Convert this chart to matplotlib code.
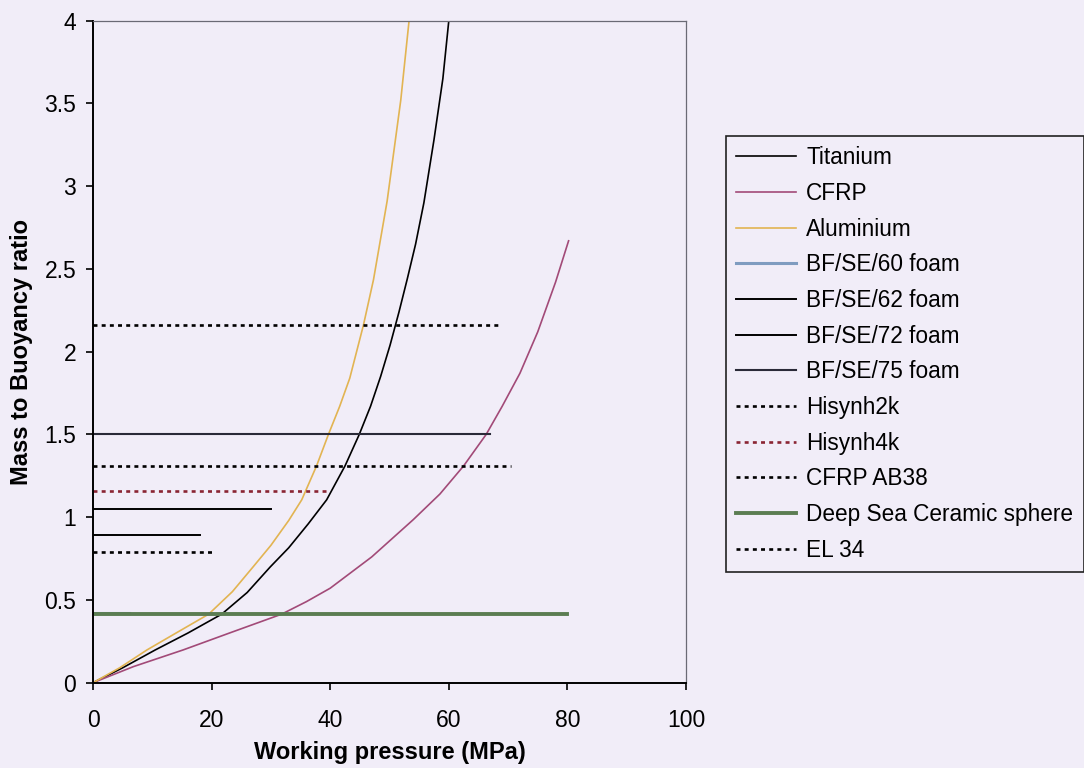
import matplotlib.pyplot as plt

plt.rcParams['font.family'] = ['Liberation Sans', 'DejaVu Sans']

# curves: working pressure (MPa) vs mass to buoyancy ratio
ti_x = [0, 5, 10.5, 16, 21.7, 26, 29.9, 33, 36.3, 39.4, 42.5, 44.9, 46.8, 48.5, 50.1, 51.6, 53.0, 54.4, 55.8, 57.5, 59, 60]
ti_y = [0, 0.09, 0.198, 0.30, 0.414, 0.545, 0.70, 0.815, 0.96, 1.105, 1.31, 1.5, 1.67, 1.85, 2.04, 2.24, 2.44, 2.65, 2.9, 3.28, 3.65, 4.0]

cfrp_x = [0, 6.8, 15.2, 23, 31.8, 36, 40, 47, 54, 58.5, 62.5, 66.3, 69, 72, 75, 78, 80.2]
cfrp_y = [0, 0.097, 0.198, 0.30, 0.414, 0.49, 0.571, 0.76, 0.985, 1.14, 1.31, 1.5, 1.67, 1.87, 2.12, 2.42, 2.67]

al_x = [0, 4.5, 9.1, 14, 19.5, 23.5, 27, 30, 33, 35.2, 37.7, 39.7, 41.6, 43.3, 45.6, 47.3, 49.6, 51.9, 53.3]
al_y = [0, 0.09, 0.198, 0.30, 0.414, 0.55, 0.70, 0.83, 0.98, 1.105, 1.31, 1.5, 1.67, 1.84, 2.16, 2.435, 2.91, 3.52, 4.0]

# flat ratings: (max pressure, ratio)
foam60 = (6.1, 0.42)
foam62 = (18.0, 0.893)
foam72 = (30.1, 1.05)
foam75 = (67.0, 1.50)
hisynh2k = (20.0, 0.79)
hisynh4k = (40.0, 1.16)
cfrp_ab38 = (70.5, 1.31)
ceramic = (80.0, 0.414)
el34 = (69.0, 2.16)

bg = '#f1edf8'
fig = plt.figure(figsize=(10.84, 7.68), dpi=100, facecolor=bg)
ax = fig.add_axes([93/1084, 1-682.7/768, 593/1084, 662/768], facecolor=bg)

ax.plot(ti_x, ti_y, color='black', lw=1.2, label='Titanium')
ax.plot(cfrp_x, cfrp_y, color='#a24a78', lw=1.2, label='CFRP')
ax.plot(al_x, al_y, color='#e2b452', lw=1.2, label='Aluminium')

dot = (0, (1.5, 1.6))
flat = [
    (foam60, 'BF/SE/60 foam', '#7f9cc0', 2.2, '-'),
    (foam62, 'BF/SE/62 foam', 'black', 1.4, '-'),
    (foam72, 'BF/SE/72 foam', 'black', 1.4, '-'),
    (foam75, 'BF/SE/75 foam', '#2a2a38', 1.5, '-'),
    (hisynh2k, 'Hisynh2k', 'black', 1.9, dot),
    (hisynh4k, 'Hisynh4k', '#8a2433', 1.9, dot),
    (cfrp_ab38, 'CFRP AB38', 'black', 1.9, dot),
    (ceramic, 'Deep Sea Ceramic sphere', '#5b7d52', 2.8, '-'),
    (el34, 'EL 34', 'black', 1.9, dot),
]
for (pmax, ratio), name, col, lw, ls in flat:
    ax.plot([0, pmax], [ratio, ratio], color=col, lw=lw, ls=ls, label=name)

ax.set_xlim(0, 100)
ax.set_ylim(0, 4)
ax.set_xticks([0, 20, 40, 60, 80, 100])
ax.set_yticks([0, 0.5, 1, 1.5, 2, 2.5, 3, 3.5, 4])
ax.set_yticklabels(['0', '0.5', '1', '1.5', '2', '2.5', '3', '3.5', '4'])
ax.tick_params(axis='both', direction='out', length=5, width=1.2, labelsize=16.5, colors='black')
ax.tick_params(axis='x', pad=14)
ax.tick_params(axis='y', pad=7)
for s in ['left', 'bottom']:
    ax.spines[s].set_linewidth(1.4)
for s in ['top', 'right']:
    ax.spines[s].set_linewidth(0.9)
    ax.spines[s].set_color('#6a6a75')

ax.set_xlabel('Working pressure (MPa)', fontsize=17, fontweight='bold')
ax.xaxis.set_label_coords(0.5, -0.105)
ax.xaxis.label.set_verticalalignment('center')
ax.set_ylabel('Mass to Buoyancy ratio', fontsize=17, fontweight='bold')
ax.yaxis.set_label_coords(-0.121, 0.5)
ax.yaxis.label.set_verticalalignment('center')

leg = ax.legend(loc='upper left', bbox_to_anchor=(726/1084, 1-136/768), bbox_transform=fig.transFigure,
                fontsize=16.3, frameon=True, fancybox=False, edgecolor='#222222', facecolor=bg,
                framealpha=1, handlelength=2.65, handletextpad=0.45, labelspacing=0.56,
                borderpad=0.45, borderaxespad=0)
leg.get_frame().set_linewidth(1.2)

fig.savefig('out.png', dpi=100, facecolor=bg)
